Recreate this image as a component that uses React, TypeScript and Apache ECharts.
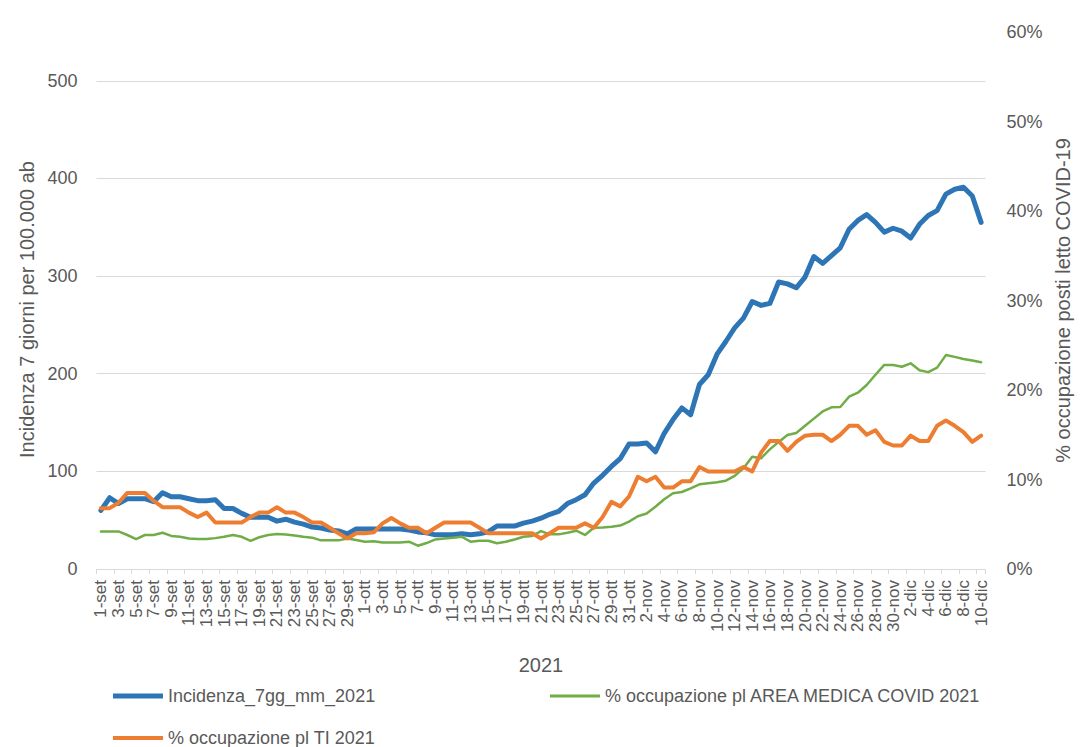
import React, { useEffect, useRef } from "react";
import * as echarts from "echarts";

const months: [string, number][] = [
  ["set", 30],
  ["ott", 31],
  ["nov", 30],
  ["dic", 10],
];
const categories: string[] = months.flatMap(([m, n]) =>
  Array.from({ length: n }, (_, k) => `${k + 1}-${m}`)
);

const incidenza = [
  60, 73, 67, 72, 72, 72, 69, 78, 74, 74, 72, 70, 70, 71, 62, 62, 57, 53, 53, 53,
  49, 51, 48, 46, 43, 42, 40, 39, 36, 41, 41, 41, 41, 41, 41, 40, 38, 37, 35, 35,
  35, 36, 35, 36, 38, 44, 44, 44, 47, 49, 52, 56, 59, 67, 71, 76, 88, 96, 105, 113,
  128, 128, 129, 120, 139, 153, 165, 158, 189, 199, 220, 233, 247, 257, 274, 270, 272, 294, 292, 288,
  299, 320, 313, 321, 329, 348, 357, 363, 355, 345, 349, 346, 339, 353, 362, 367, 384, 389, 391, 382,
  355,
];

const areaMedica = [
  4.2, 4.2, 4.2, 3.8, 3.35, 3.8, 3.8, 4.05, 3.7, 3.6, 3.4, 3.35, 3.35, 3.45, 3.6, 3.8, 3.6, 3.15, 3.55, 3.8,
  3.9, 3.85, 3.75, 3.6, 3.5, 3.2, 3.2, 3.2, 3.4, 3.25, 3.05, 3.1, 2.95, 2.95, 2.95, 3.05, 2.6, 2.9, 3.3, 3.4,
  3.5, 3.6, 3.05, 3.15, 3.15, 2.87, 3.05, 3.3, 3.6, 3.7, 4.24, 3.87, 3.87, 4.06, 4.28, 3.8, 4.6, 4.65, 4.73, 4.85,
  5.3, 5.9, 6.2, 6.96, 7.8, 8.46, 8.6, 9.0, 9.46, 9.57, 9.7, 9.87, 10.4, 11.25, 12.55, 12.37, 13.37, 14.2, 14.97, 15.2,
  16.0, 16.8, 17.6, 18.06, 18.1, 19.25, 19.7, 20.56, 21.7, 22.8, 22.8, 22.6, 22.98, 22.2, 22.0, 22.5, 23.9, 23.7, 23.46, 23.3,
  23.1,
];

const terapiaIntensiva = [
  6.8, 6.8, 7.4, 8.5, 8.5, 8.5, 7.6, 6.9, 6.9, 6.9, 6.3, 5.8, 6.3, 5.2, 5.2, 5.2, 5.2, 5.8, 6.3, 6.3,
  6.9, 6.3, 6.3, 5.8, 5.2, 5.2, 4.6, 4.0, 3.4, 4.0, 4.0, 4.1, 5.1, 5.7, 5.1, 4.6, 4.6, 4.0, 4.6, 5.2,
  5.2, 5.2, 5.2, 4.6, 4.0, 4.0, 4.0, 4.0, 4.0, 4.0, 3.4, 4.0, 4.6, 4.6, 4.6, 5.1, 4.6, 5.8, 7.5, 7.0,
  8.1, 10.3, 9.8, 10.3, 9.1, 9.1, 9.8, 9.8, 11.4, 10.9, 10.9, 10.9, 10.9, 11.4, 10.9, 13.0, 14.3, 14.3, 13.2, 14.2,
  14.9, 15.0, 15.0, 14.3, 15.0, 16.0, 16.0, 15.0, 15.5, 14.2, 13.8, 13.8, 14.9, 14.3, 14.3, 16.0, 16.6, 16.0, 15.3, 14.2,
  14.9,
];

const seriesNames = [
  "Incidenza_7gg_mm_2021",
  "% occupazione pl AREA MEDICA COVID 2021",
  "% occupazione pl TI 2021",
];
const leftTitle = "Incidenza 7 giorni per 100.000 ab";
const rightTitle = "% occupazione posti letto COVID-19";
const xTitle = "2021";

const BLUE = "#2E75B6";
const GREEN = "#70AD47";
const ORANGE = "#ED7D31";
const TEXT = "#595959";
const GRID = "#D9D9D9";
const FONT = "Liberation Sans, Arial, sans-serif";

export default function App() {
  const ref = useRef<HTMLDivElement>(null);
  useEffect(() => {
    document.body.style.margin = "0";
    const chart = echarts.init(ref.current!, null, { renderer: "svg" });
    const legendText = { color: TEXT, fontSize: 18, fontFamily: FONT };
    chart.setOption({
      animation: false,
      backgroundColor: "#ffffff",
      textStyle: { fontFamily: FONT },
      grid: { left: 96.5, right: 98.5, top: 32, bottom: 178 },
      legend: [
        {
          data: [seriesNames[0]],
          left: 108,
          top: 682,
          icon: "rect",
          itemWidth: 50,
          itemHeight: 5,
          textStyle: legendText,
        },
        {
          data: [seriesNames[1]],
          left: 545,
          top: 682,
          icon: "rect",
          itemWidth: 50,
          itemHeight: 3,
          textStyle: legendText,
        },
        {
          data: [seriesNames[2]],
          left: 108,
          top: 724,
          icon: "rect",
          itemWidth: 50,
          itemHeight: 4,
          textStyle: legendText,
        },
      ],
      xAxis: {
        type: "category",
        data: categories,
        boundaryGap: true,
        name: xTitle,
        nameLocation: "middle",
        nameGap: 86,
        nameTextStyle: { color: TEXT, fontSize: 20, fontFamily: FONT },
        axisLine: { lineStyle: { color: GRID, width: 1 } },
        axisTick: { show: true, interval: 1, length: 5, lineStyle: { color: GRID } },
        axisLabel: {
          interval: 1,
          rotate: 90,
          color: TEXT,
          fontSize: 17,
          margin: 11,
          fontFamily: FONT,
        },
        splitLine: { show: false },
      },
      yAxis: [
        {
          type: "value",
          min: 0,
          max: 550,
          interval: 100,
          name: leftTitle,
          nameLocation: "middle",
          nameRotate: 90,
          nameGap: 53,
          nameTextStyle: {
            color: TEXT,
            fontSize: 20,
            fontFamily: FONT,
            padding: [0, 18, 0, 0],
          },
          axisLine: { show: false },
          axisTick: { show: false },
          axisLabel: {
            color: TEXT,
            fontSize: 18,
            margin: 19,
            fontFamily: FONT,
            showMaxLabel: false,
            formatter: (v: number) => (v > 500 ? "" : String(v)),
          },
          splitLine: {
            show: true,
            showMaxLine: false,
            lineStyle: { color: GRID, width: 1 },
          },
        },
        {
          type: "value",
          min: 0,
          max: 60,
          interval: 10,
          position: "right",
          name: rightTitle,
          nameLocation: "middle",
          nameRotate: 90,
          nameGap: 61,
          nameTextStyle: { color: TEXT, fontSize: 20, fontFamily: FONT },
          axisLine: { show: false },
          axisTick: { show: false },
          axisLabel: {
            color: TEXT,
            fontSize: 18,
            margin: 21,
            fontFamily: FONT,
            formatter: "{value}%",
          },
          splitLine: { show: false },
        },
      ],
      series: [
        {
          name: seriesNames[0],
          type: "line",
          data: incidenza,
          yAxisIndex: 0,
          symbol: "none",
          color: BLUE,
          lineStyle: { color: BLUE, width: 5, cap: "round", join: "round" },
        },
        {
          name: seriesNames[1],
          type: "line",
          data: areaMedica,
          yAxisIndex: 1,
          symbol: "none",
          color: GREEN,
          lineStyle: { color: GREEN, width: 2.5, cap: "round", join: "round" },
        },
        {
          name: seriesNames[2],
          type: "line",
          data: terapiaIntensiva,
          yAxisIndex: 1,
          symbol: "none",
          color: ORANGE,
          lineStyle: { color: ORANGE, width: 4, cap: "round", join: "round" },
        },
      ],
    });
    return () => chart.dispose();
  }, []);
  return <div ref={ref} style={{ width: 1084, height: 747 }} />;
}
